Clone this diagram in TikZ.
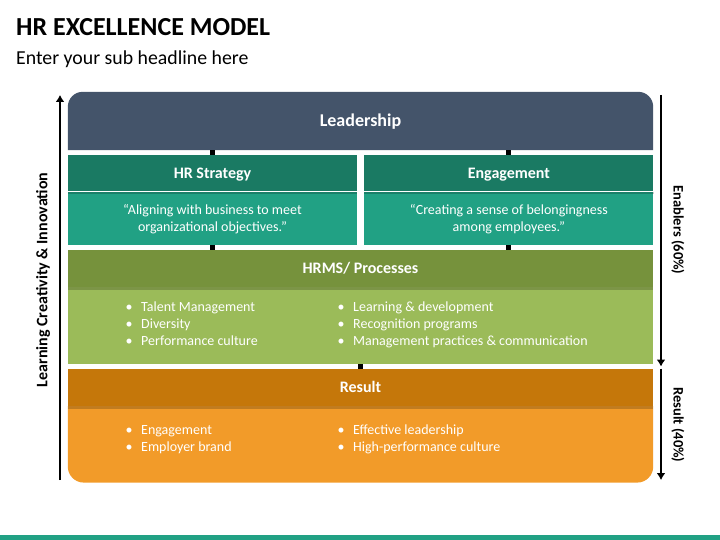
\documentclass[tikz,border=0pt]{standalone}
\usepackage{fontspec}
\setmainfont{Carlito}
\usetikzlibrary{arrows.meta,positioning,calc,backgrounds}
\definecolor{leadblue}{HTML}{44546A}
\definecolor{tealdark}{HTML}{1A7A63}
\definecolor{teallight}{HTML}{21A184}
\definecolor{olivedark}{HTML}{76923C}
\definecolor{olivelight}{HTML}{9BBB59}
\definecolor{orangedark}{HTML}{C5770A}
\definecolor{orangelight}{HTML}{F29B29}
\tikzset{
	head/.style = {rectangle, inner sep=0pt, text=white, minimum height=37pt, text height=10.3pt, text depth=0pt, font=\bfseries\fontsize{16}{19}\selectfont},
	body/.style = {rectangle, inner sep=0pt, text=white, align=center, font=\fontsize{14}{17}\selectfont},
	quote/.style = {body, fill=teallight, minimum width=289pt, minimum height=53pt, text height=32pt, text depth=5pt},
	bullets/.style = {inner sep=0pt, text=white, align=left, anchor=west, font=\fontsize{14}{17}\selectfont},
	side/.style = {inner sep=0pt, font=\bfseries\fontsize{14.5}{17}\selectfont},
	tick/.style = {draw=black, line width=5pt},
	axis/.style = {draw=black, line width=2.5pt},
	shade/.style = {fill=black, opacity=.2}
}
\newcommand{\bitem}[1]{\strut\makebox[12pt]{\textbullet}\hspace{6pt}#1}

\begin{document}
\begin{tikzpicture}[x=1pt, y=-1pt, >={Latex[length=7pt,width=9pt]}]
	\useasboundingbox (0,0) rectangle (720,540);
	% headline
	\node [anchor=base west, inner sep=0pt, font=\bfseries\fontsize{26}{31}\selectfont] (title) at (16,36) {HR EXCELLENCE MODEL};
	\node [anchor=base west, inner sep=0pt, font=\fontsize{19.8}{24}\selectfont] (subtitle) at (16,65) {Enter your sub headline here};
	% blocks
	\node [head, minimum width=585pt, minimum height=58pt, text height=11.6pt, font=\bfseries\fontsize{18}{21}\selectfont] (lead) at (360.5,121) {Leadership};
	\node [head, fill=tealdark, minimum width=289pt, minimum height=36.5pt] (hrs) at (212.5,173.25) {HR Strategy};
	\node [quote, below=0pt of hrs] (hrsbody) {\strut“Aligning with business to meet\\\strut organizational objectives.”};
	\node [head, fill=tealdark, minimum width=289pt, minimum height=36.5pt, right=7pt of hrs] (eng) {Engagement};
	\node [quote, below=0pt of eng] (engbody) {\strut“Creating a sense of belongingness\\\strut among employees.”};
	\node [head, fill=olivedark, minimum width=585pt] (hrms) at (360.5,268.5) {HRMS/ Processes};
	\node [body, fill=olivelight, minimum width=585pt, minimum height=76.5pt, below=0pt of hrms] (hrmsbody) {};
	\node [head, fill=orangedark, minimum width=585pt] (res) at (360.5,387.5) {Result};
	\node [body, minimum width=585pt, minimum height=76pt, below=0pt of res] (resbody) {};
	\begin{scope}[on background layer]
		\fill [leadblue, rounded corners=15pt] (lead.south west) -- (lead.north west) -- (lead.north east) -- (lead.south east);
		\fill [orangelight, rounded corners=16pt] (resbody.north west) -- (resbody.south west) -- (resbody.south east) -- (resbody.north east);
	\end{scope}
	\foreach \h in {hrs,eng,hrms,res}
		\fill [shade] (\h.south west) rectangle ($(\h.south east)+(0,2.5)$);
	% lists
	\node [bullets] (hrmsleft) at (123,325) {\bitem{Talent Management}\\\bitem{Diversity}\\\bitem{Performance culture}};
	\node [bullets] (hrmsright) at (335,325) {\bitem{Learning \& development}\\\bitem{Recognition programs}\\\bitem{Management practices \& communication}};
	\node [bullets] (resleft) at (123,439.5) {\bitem{Engagement}\\\bitem{Employer brand}};
	\node [bullets] (resright) at (335,439.5) {\bitem{Effective leadership}\\\bitem{High-performance culture}};
	% links
	\draw [tick] (hrs.north) -- (hrs.north |- lead.south);
	\draw [tick] (eng.north) -- (eng.north |- lead.south);
	\draw [tick] (hrsbody.south) -- (hrsbody.south |- hrms.north);
	\draw [tick] (engbody.south) -- (engbody.south |- hrms.north);
	\draw [tick] (hrmsbody.south) -- (res.north);
	% side arrows
	\coordinate (lefttop) at (60,95);
	\coordinate (leftbot) at (60,480);
	\coordinate (righttop) at (661,95);
	\coordinate (rightmid) at (661,366.5);
	\coordinate (resstart) at (661,368.5);
	\coordinate (rightbot) at (661,480);
	\draw [axis, ->] (leftbot) -- (lefttop);
	\draw [axis, ->] (righttop) -- (rightmid);
	\draw [axis, ->] (resstart) -- (rightbot);
	\node [side, rotate=90, font=\bfseries\fontsize{16}{19}\selectfont] (learnlabel) at (43,280) {Learning Creativity \& Innovation};
	\node [side, rotate=-90] (enablerlabel) at (678,230) {Enablers (60\%)};
	\node [side, rotate=-90] (resultlabel) at (678,425) {Result (40\%)};
	% footer strip
	\fill [teallight] (0,535) rectangle (720,540);
\end{tikzpicture}
\end{document}
